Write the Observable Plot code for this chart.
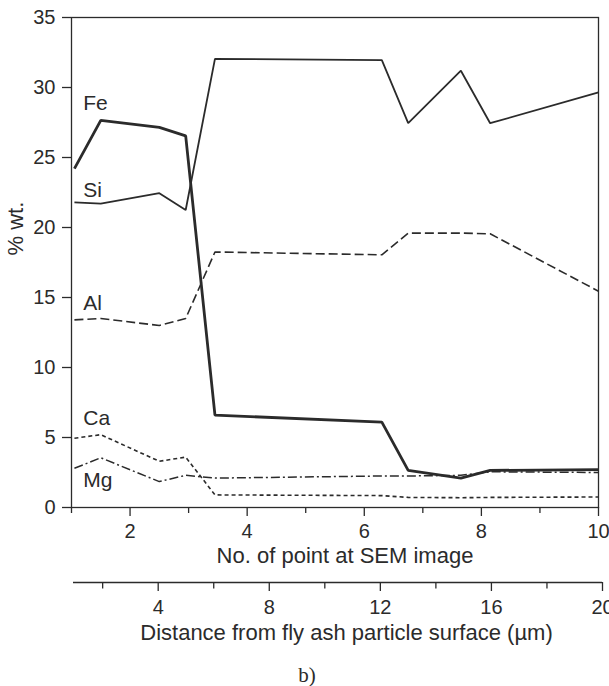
<!DOCTYPE html>
<html>
<head>
<meta charset="utf-8">
<script src="https://cdn.jsdelivr.net/npm/d3@7"></script>
<script src="https://cdn.jsdelivr.net/npm/@observablehq/plot@0.6"></script>
<style>
  html, body { margin: 0; padding: 0; background: white; }
  #wrap { position: relative; width: 609px; height: 686px; overflow: hidden; }
  #caption { position: absolute; left: 0; width: 614px; top: 665px; height: 20px; text-align: center;
    font-family: "Liberation Serif", "DejaVu Serif", serif; font-size: 21px; line-height: 20px; color: #2b2b2b; }
  svg { display: block; }
</style>
</head>
<body>
<div id="wrap">
  <div id="chart"></div>
  <div id="axis2"></div>
  <div id="caption">b)</div>
</div>
<script>
// Point positions along the SEM profile (No. of point)
const pointNo = [1.05, 1.5, 2.5, 2.95, 3.45, 6.3, 6.75, 7.65, 8.15, 10];
// Element contents, % wt.
const fe = [24.2, 27.65, 27.15, 26.55, 6.6, 6.1, 2.65, 2.1, 2.65, 2.7];
const si = [21.8, 21.7, 22.45, 21.25, 32.05, 31.95, 27.45, 31.2, 27.45, 29.65];
const al = [13.4, 13.5, 13.0, 13.5, 18.25, 18.05, 19.6, 19.6, 19.55, 15.45];
const ca = [4.95, 5.2, 3.3, 3.6, 0.9, 0.85, 0.72, 0.7, 0.72, 0.75];
const mg = [2.8, 3.55, 1.85, 2.3, 2.1, 2.25, 2.25, 2.3, 2.55, 2.5];

const elements = ["Fe", "Si", "Al", "Ca", "Mg"];
// where each element's name is written (No. of point, % wt.)
const labelX = [1.2, 1.2, 1.2, 1.2, 1.2];
const labelY = [28.9, 22.65, 14.6, 6.4, 1.93];

// axis ticks
const yTicks = [0, 5, 10, 15, 20, 25, 30, 35];
const xMajor = [2, 4, 6, 8, 10];
const xMinor = [1, 3, 5, 7, 9];
const dMajor = [4, 8, 12, 16, 20];
const dMinor = [2, 6, 10, 14, 18];

const ink = "#2b2b2b";
const font = "'Liberation Sans', Arial, Helvetica, sans-serif";

const series = [
  {name: "Fe", v: fe, w: 2.8, dash: null},
  {name: "Si", v: si, w: 1.8, dash: null},
  {name: "Al", v: al, w: 1.6, dash: "9,4"},
  {name: "Ca", v: ca, w: 1.6, dash: "4,3"},
  {name: "Mg", v: mg, w: 1.5, dash: "9,3,2,3"}
];

const lineMarks = series.map(s =>
  Plot.line(pointNo.map((x, i) => ({x, y: s.v[i]})), {
    x: "x", y: "y", stroke: ink, strokeWidth: s.w,
    strokeDasharray: s.dash, strokeLinejoin: "miter", strokeLinecap: "butt"
  })
);

const labels = elements.map((name, i) => ({name, x: labelX[i], y: labelY[i]}));

const chart = Plot.plot({
  width: 609, height: 575,
  marginLeft: 71, marginRight: 11, marginTop: 17, marginBottom: 68,
  x: {domain: [1, 10]},
  y: {domain: [0, 35]},
  style: {fontFamily: font, fontSize: "20px", color: ink, background: "white", overflow: "visible"},
  marks: [
    ...lineMarks,
    Plot.text(labels, {x: "x", y: "y", text: "name", textAnchor: "start", fontSize: 21, fill: ink}),
    Plot.frame({stroke: ink, strokeWidth: 1.3}),
    Plot.axisY(yTicks, {tickSize: 9, tickPadding: 7, fontSize: 20, label: null, stroke: ink, strokeWidth: 1.3}),
    Plot.axisX(xMajor, {tickSize: 9, tickPadding: 7, fontSize: 20, label: null, stroke: ink, strokeWidth: 1.3}),
    Plot.axisX(xMinor, {tickSize: 6, tickFormat: () => "", label: null, stroke: ink, strokeWidth: 1.3}),
    Plot.text(["No. of point at SEM image"], {frameAnchor: "bottom", dx: 10, dy: 55, fontSize: 22, fill: ink}),
    Plot.text(["% wt."], {frameAnchor: "left", dx: -56, dy: -7, rotate: -90, fontSize: 22, fill: ink})
  ]
});
document.getElementById("chart").appendChild(chart);

const axis2 = Plot.plot({
  width: 609, height: 80,
  marginLeft: 73, marginRight: 7, marginTop: 7, marginBottom: 73,
  x: {domain: [0.95, 20]},
  y: {domain: [0, 1], axis: null},
  style: {fontFamily: font, fontSize: "20px", color: ink, background: "white", overflow: "visible"},
  marks: [
    Plot.ruleY([0], {stroke: ink, strokeWidth: 1.3}),
    Plot.axisX(dMajor, {tickSize: 9, tickPadding: 8, fontSize: 20, label: null, stroke: ink, strokeWidth: 1.3}),
    Plot.axisX(dMinor, {tickSize: 6.5, tickFormat: () => "", label: null, stroke: ink, strokeWidth: 1.3}),
    Plot.text(["Distance from fly ash particle surface (µm)"], {frameAnchor: "bottom", dx: 8.5, dy: 57, fontSize: 22, fill: ink})
  ]
});
document.getElementById("axis2").appendChild(axis2);
</script>
</body>
</html>
